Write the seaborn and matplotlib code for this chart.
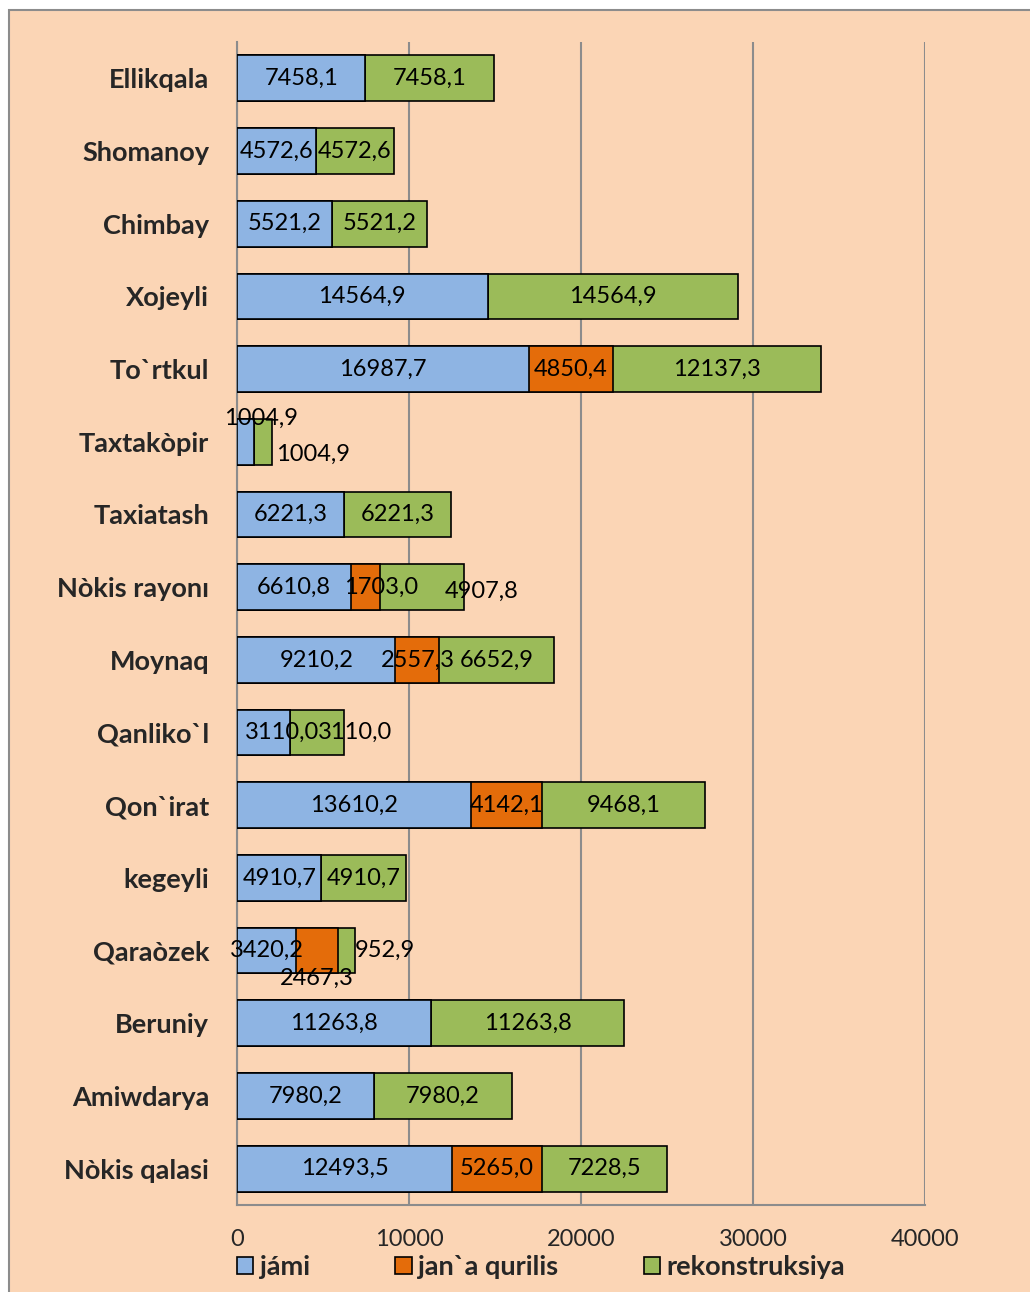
import numpy as np
import pandas as pd
import matplotlib
matplotlib.use("Agg")
import matplotlib.pyplot as plt
import seaborn as sns
from matplotlib.patches import Rectangle, Patch

districts = [
    "Ellikqala", "Shomanoy", "Chimbay", "Xojeyli", "To`rtkul", "Taxtakòpir",
    "Taxiatash", "Nòkis rayonı", "Moynaq", "Qanliko`l", "Qon`irat", "kegeyli",
    "Qaraòzek", "Beruniy", "Amiwdarya", "Nòkis qalasi",
]
jami = [7458.1, 4572.6, 5521.2, 14564.9, 16987.7, 1004.9, 6221.3, 6610.8,
        9210.2, 3110.0, 13610.2, 4910.7, 3420.2, 11263.8, 7980.2, 12493.5]
jana_qurilis = [0, 0, 0, 0, 4850.4, 0, 0, 1703.0,
                2557.3, 0, 4142.1, 0, 2467.3, 0, 0, 5265.0]
rekonstruksiya = [7458.1, 4572.6, 5521.2, 14564.9, 12137.3, 1004.9, 6221.3, 4907.8,
                  6652.9, 3110.0, 9468.1, 4910.7, 952.9, 11263.8, 7980.2, 7228.5]
x_ticks = [0, 10000, 20000, 30000, 40000]

# label nudges (points) where Excel shifted overlapping labels
nudges = {
    ("Taxtakòpir", 0): (11, 17), ("Taxtakòpir", 2): (36, -9),
    ("Nòkis rayonı", 1): (11, 0), ("Nòkis rayonı", 2): (43, -3),
    ("Qanliko`l", 0): (13, 0), ("Qanliko`l", 2): (27, 0),
    ("Qaraòzek", 1): (0, -20), ("Qaraòzek", 2): (28, 0),
}

df = pd.DataFrame({"district": districts, "jami": jami,
                   "jana": jana_qurilis, "rek": rekonstruksiya})
df["c1"] = df["jami"]
df["c2"] = df["jami"] + df["jana"]
df["c3"] = df["c2"] + df["rek"]

bg = "#FBD5B5"
blue, orange, green = "#8EB4E3", "#E46C0A", "#9BBB59"
font = ["Lato", "DejaVu Sans"]

sns.set_style("white")
plt.rcParams["font.family"] = font

fig = plt.figure(figsize=(10.3, 12.92), dpi=100)
fig.patch.set_facecolor("white")
fig.patches.append(Rectangle((9 / 1030, -0.05), 1.2, 1 - 10 / 1292 + 0.05,
                             transform=fig.transFigure, facecolor=bg,
                             edgecolor="#8c8c8c", linewidth=1.5, zorder=-10))

ax = fig.add_axes([237 / 1030, 1 - 1205 / 1292, (925 - 237) / 1030, (1205 - 42) / 1292])
ax.set_facecolor("none")

for col, color in [("c3", green), ("c2", orange), ("c1", blue)]:
    sns.barplot(data=df, x=col, y="district", orient="h", color=color,
                edgecolor="black", linewidth=1.2, width=0.63, saturation=1,
                ax=ax, zorder=3)

# value labels
for i, row in df.iterrows():
    segs = [(0, row["jami"]), (row["jami"], row["jana"]), (row["c2"], row["rek"])]
    for k, (start, val) in enumerate(segs):
        if val <= 0:
            continue
        dx, dy = nudges.get((row["district"], k), (0, 0))
        ax.annotate(f"{val:.1f}".replace(".", ","), (start + val / 2, i),
                    xytext=(dx, dy), textcoords="offset points",
                    ha="center", va="center", fontsize=17, color="black", zorder=5)

ax.set_xlim(0, 40000)
ax.set_ylim(15.5, -0.5)
ax.set_xticks(x_ticks)
ax.set_xticklabels([str(t) for t in x_ticks], fontsize=17)
ax.set_xlabel("")
ax.set_ylabel("")
ax.set_yticks(range(len(districts)))
ax.set_yticklabels(districts, fontsize=19.5, fontweight="bold")
ax.tick_params(axis="y", length=0, pad=20)
ax.set_yticks(np.arange(-0.5, len(districts), 1), minor=True)
ax.tick_params(axis="y", which="minor", length=7, color="#8c8c8c", width=1.5)
ax.tick_params(axis="x", length=7, color="#8c8c8c", width=1.5, pad=10)
ax.grid(axis="x", color="#8c8c8c", linewidth=1.5, zorder=0)
ax.set_axisbelow(True)
for side in ["top", "right"]:
    ax.spines[side].set_visible(False)
for side in ["left", "bottom"]:
    ax.spines[side].set_color("#8c8c8c")
    ax.spines[side].set_linewidth(1.5)

handles = [Patch(facecolor=c, edgecolor="black", linewidth=1.2) for c in (blue, orange, green)]
leg = fig.legend(handles, ["jámi", "jan`a qurilis", "rekonstruksiya"], ncol=3,
                 loc="center left", bbox_to_anchor=(237 / 1030, 1 - 1267 / 1292),
                 frameon=False, handlelength=0.6, handleheight=0.6, handletextpad=0.25,
                 columnspacing=3.15, borderaxespad=0, borderpad=0,
                 prop={"family": font, "size": 19.5, "weight": "bold"})

fig.savefig("out.png", dpi=100, facecolor=fig.get_facecolor())
